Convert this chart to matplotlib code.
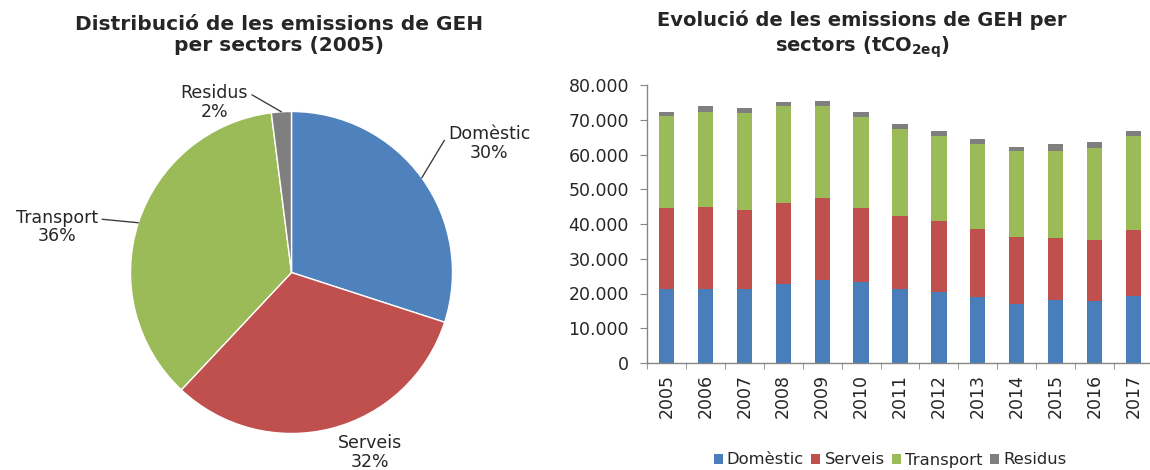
import numpy as np
import matplotlib
matplotlib.use("Agg")
import matplotlib.pyplot as plt
from matplotlib.patches import Patch
from matplotlib.ticker import FuncFormatter, FixedLocator

plt.rcParams["font.family"] = ["DejaVu Sans"]

# ---- Data ----
sectors    = ["Domèstic", "Serveis", "Transport", "Residus"]
pie_share  = [30, 32, 36, 2]          # % 2005

years      = ["2005", "2006", "2007", "2008", "2009", "2010", "2011",
              "2012", "2013", "2014", "2015", "2016", "2017"]
domestic   = [21400, 21400, 21400, 22600, 24000, 23300, 21400, 20400, 19100, 16900, 18100, 17800, 19300]
serveis    = [23200, 23400, 22700, 23450, 23500, 21300, 20800, 20600, 19600, 19400, 17900, 17500, 18900]
transport  = [26500, 27550, 27800, 27950, 26500, 26150, 25100, 24400, 24400, 24600, 25100, 26500, 27000]
residus    = [1250, 1750, 1400, 1200, 1500, 1600, 1500, 1400, 1300, 1400, 1900, 1700, 1600]

PIE_COLORS = ["#4F81BD", "#C0504D", "#9BBB59", "#7F7F7F"]
BAR_COLORS = ["#4A7EBB", "#C0504D", "#9BBB59", "#7F7F7F"]
TXT = "#262626"

W, H = 1150, 470
fig = plt.figure(figsize=(W / 100, H / 100), dpi=100)

# ---- Pie ----
cx, cy, r = 291.5, 272.5, 161
ax_p = fig.add_axes([(cx - r) / W, (H - cy - r) / H, 2 * r / W, 2 * r / H])
wedges, _ = ax_p.pie(pie_share, colors=PIE_COLORS, startangle=90, counterclock=False,
                     wedgeprops=dict(edgecolor="white", linewidth=1.0))
ax_p.set_xlim(-1, 1)
ax_p.set_ylim(-1, 1)

# label positions (in radius units) and where the leader line leaves the label
lab_pos = {"Domèstic": (1.227, 0.80), "Serveis": (0.487, -1.118),
           "Transport": (-1.457, 0.283), "Residus": (-0.48, 1.054)}
lab_rel = {"Domèstic": (0.0, 0.75), "Transport": (1.0, 0.72), "Residus": (1.0, 0.78)}
for w, name, pct in zip(wedges, sectors, pie_share):
    th = np.deg2rad((w.theta1 + w.theta2) / 2)
    edge = (np.cos(th), np.sin(th))
    label = f"{name}\n{pct}%"
    if name in lab_rel:
        ax_p.annotate(label, xy=edge, xytext=lab_pos[name], ha="center", va="center",
                      fontsize=12.5, color=TXT, linespacing=1.05, annotation_clip=False,
                      arrowprops=dict(arrowstyle="-", color="#404040", lw=1.0,
                                      relpos=lab_rel[name], shrinkA=1, shrinkB=0))
    else:
        ax_p.text(*lab_pos[name], label, ha="center", va="center",
                  fontsize=12.5, color=TXT, linespacing=1.05)

fig.text(279 / W, 1 - 35 / H, "Distribució de les emissions de GEH\nper sectors (2005)",
         ha="center", va="center", fontsize=14.5, fontweight="bold", color=TXT,
         linespacing=1.1)

# ---- Stacked bars ----
ax_b = fig.add_axes([647 / W, (H - 363) / H, 506 / W, (363 - 85) / H])
x = np.arange(len(years))
series = [domestic, serveis, transport, residus]
bottom = np.zeros(len(years))
for vals, col in zip(series, BAR_COLORS):
    ax_b.bar(x, vals, width=0.39, bottom=bottom, color=col, linewidth=0)
    bottom += np.array(vals)

ax_b.set_xlim(-0.5, len(years) - 0.5)
ax_b.set_ylim(0, 80000)
ax_b.set_yticks(np.arange(0, 80001, 10000))
ax_b.yaxis.set_major_formatter(FuncFormatter(lambda v, p: f"{int(v):,}".replace(",", ".")))
ax_b.set_xticks(x)
ax_b.set_xticklabels(years, rotation=90)
ax_b.xaxis.set_minor_locator(FixedLocator(np.arange(-0.5, len(years), 1.0)))
ax_b.tick_params(axis="x", which="major", length=0, pad=8, labelsize=12.5, labelcolor=TXT)
ax_b.tick_params(axis="x", which="minor", length=4, color="#868686", direction="out")
ax_b.tick_params(axis="y", length=5, color="#868686", direction="out", pad=8,
                 labelsize=12.5, labelcolor=TXT)
for s in ["top", "right"]:
    ax_b.spines[s].set_visible(False)
for s in ["left", "bottom"]:
    ax_b.spines[s].set_color("#868686")
    ax_b.spines[s].set_linewidth(1.0)

fig.text(862 / W, 1 - 20 / H, "Evolució de les emissions de GEH per",
         ha="center", va="center", fontsize=14, fontweight="bold", color=TXT)
fig.text(862 / W, 1 - 47 / H, r"sectors (tCO$_{\mathbf{2eq}}$)",
         ha="center", va="center", fontsize=14, fontweight="bold", color=TXT)

handles = [Patch(facecolor=c, edgecolor="none") for c in BAR_COLORS]
fig.legend(handles, sectors, loc="center", bbox_to_anchor=(890 / W, 1 - 460 / H),
           ncol=4, frameon=False, fontsize=11.8, handlelength=0.55, handleheight=0.55,
           handletextpad=0.25, columnspacing=0.45, labelcolor=TXT)

fig.savefig("out.png", dpi=100)
